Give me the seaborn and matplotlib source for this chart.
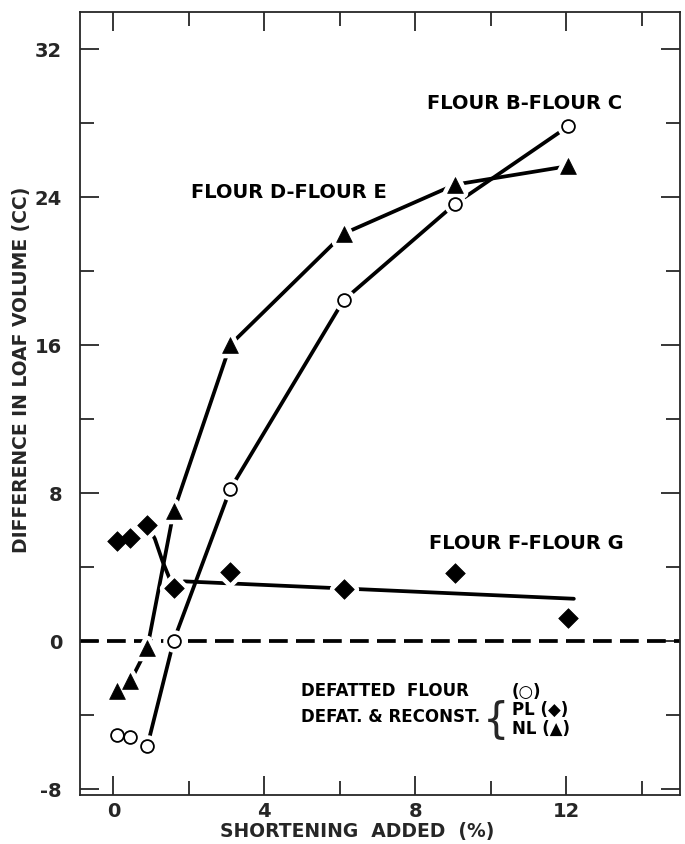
import matplotlib
matplotlib.use("Agg")
import matplotlib.pyplot as plt
import seaborn as sns
import pandas as pd

# Shortening added (%)
shortening = [0.1, 0.45, 0.9, 1.6, 3.1, 6.1, 9.05, 12.05]

# Flour B - Flour C, defatted flour (open circles)
defatted = [-5.1, -5.2, -5.7, 0.0, 8.2, 18.4, 23.6, 27.8]
# Flour D - Flour E, defatted & reconstituted, NL (triangles)
reconst_nl = [-2.75, -2.2, -0.4, 7.0, 16.0, 22.0, 24.65, 25.65]
# Flour F - Flour G, defatted & reconstituted, PL (diamonds)
reconst_pl = [5.4, 5.55, 6.25, 2.85, 3.7, 2.8, 3.65, 1.2]

# hand drawn PL curve and trend line
pl_curve_x = [0.9, 1.1, 1.3, 1.5, 1.65]
pl_curve_y = [6.25, 5.5, 4.3, 3.3, 2.85]
pl_trend_x = [1.87, 12.2]
pl_trend_y = [3.2, 2.26]

sns.set_style("ticks")
plt.rcParams['font.family'] = ['DejaVu Sans']
plt.rcParams['axes.unicode_minus'] = False

fig = plt.figure(figsize=(6.85, 8.45), dpi=100)
ax = fig.add_axes([0.117, 0.058, 0.875, 0.927])

lw = 2.7
# zero line
ax.axhline(0, color='black', lw=lw, ls=(0, (5, 2.2)), zorder=1)

df = pd.DataFrame({"x": shortening, "circ": defatted, "tri": reconst_nl, "dia": reconst_pl})

# connecting lines
sns.lineplot(data=df, x="x", y="circ", color='black', lw=lw, sort=False, estimator=None, ax=ax, zorder=2)
sns.lineplot(data=df, x="x", y="tri", color='black', lw=lw, sort=False, estimator=None, ax=ax, zorder=2)
sns.lineplot(data=df.iloc[:3], x="x", y="dia", color='black', lw=lw, sort=False, estimator=None, ax=ax, zorder=2)
ax.plot(pl_curve_x, pl_curve_y, color='black', lw=lw, zorder=2)
ax.plot(pl_trend_x, pl_trend_y, color='black', lw=lw, zorder=2)

# white halos to break the lines around the markers
for col, mk, s in [("circ", "o", 85), ("tri", "^", 130), ("dia", "D", 100)]:
    sns.scatterplot(data=df, x="x", y=col, marker=mk, s=s, color='white', edgecolor='white',
                    linewidth=7, ax=ax, zorder=3, legend=False)

# markers
sns.scatterplot(data=df, x="x", y="circ", marker="o", s=85, color='white', edgecolor='black',
                linewidth=1.3, ax=ax, zorder=4, legend=False)
sns.scatterplot(data=df, x="x", y="tri", marker="^", s=130, color='black', edgecolor='black',
                linewidth=0.5, ax=ax, zorder=4, legend=False)
sns.scatterplot(data=df, x="x", y="dia", marker="D", s=100, color='black', edgecolor='black',
                linewidth=0.5, ax=ax, zorder=4, legend=False)

ax.set_xlim(-0.88, 15.0)
ax.set_ylim(-8.35, 34.0)
ax.set_xticks([0, 4, 8, 12])
ax.set_xticklabels(["0", "4", "8", "12"])
ax.set_xticks([2, 6, 10, 14], minor=True)
ax.set_yticks([-8, 0, 8, 16, 24, 32])
ax.set_yticks([-4, 4, 12, 20, 28], minor=True)
ax.tick_params(which='both', direction='in', top=True, right=True, width=1.3, labelsize=14)
ax.tick_params(which='major', length=14)
ax.tick_params(which='minor', length=10)
ax.tick_params(axis='y', pad=13)
ax.tick_params(axis='x', pad=4)
for lab in ax.get_xticklabels() + ax.get_yticklabels():
    lab.set_fontweight('bold')
for sp in ax.spines.values():
    sp.set_linewidth(1.3)
    sp.set_visible(True)

ax.set_xlabel("SHORTENING  ADDED  (%)", fontsize=13.5, fontweight='bold')
ax.set_ylabel("DIFFERENCE IN LOAF VOLUME (CC)", fontsize=13.5, fontweight='bold')
ax.xaxis.set_label_coords(0.463, -0.033)
ax.yaxis.set_label_coords(-0.082, 0.544)

tk = dict(fontsize=14, fontweight='bold', color='black', va='center', ha='left')
ax.text(8.32, 29.1, "FLOUR B-FLOUR C", **tk)
ax.text(2.05, 24.3, "FLOUR D-FLOUR E", **tk)
ax.text(8.35, 5.3, "FLOUR F-FLOUR G", **tk)

lg = dict(tk, fontsize=12)
ax.text(4.96, -2.65, "DEFATTED  FLOUR", **lg)
ax.text(10.55, -2.72, "(○)", **lg)
ax.text(4.96, -4.06, "DEFAT. & RECONST.", **lg)
ax.text(9.8, -4.3, "{", fontsize=30, va='center', ha='left')
ax.text(10.55, -3.7, "PL (◆)", **lg)
ax.text(10.55, -4.7, "NL (▲)", **lg)

fig.savefig("out.png", dpi=100)
